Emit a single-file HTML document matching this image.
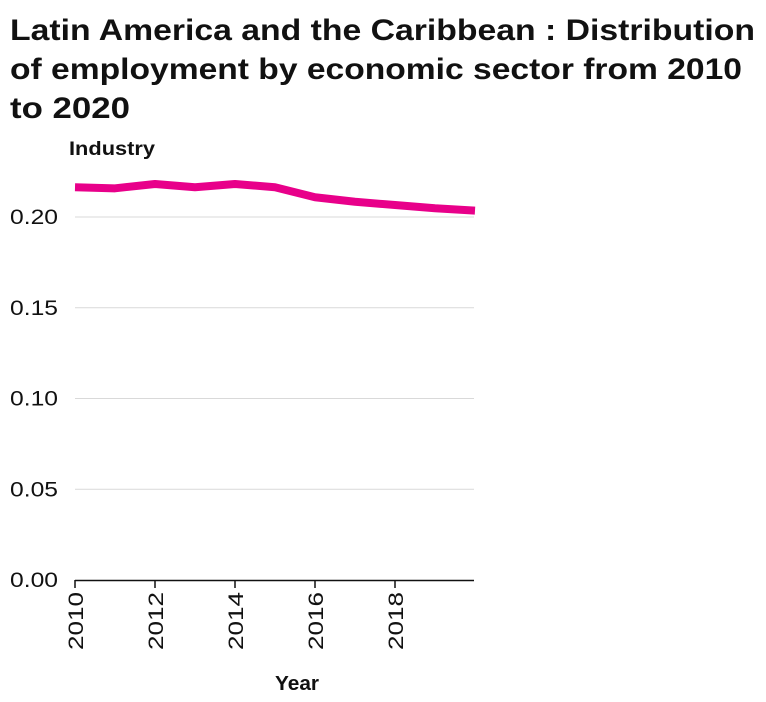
<!DOCTYPE html>
<html><head><meta charset="utf-8"><style>
body{margin:0;background:#fff;}
svg{display:block;font-family:"Liberation Sans",sans-serif;}
</style></head><body>
<svg width="766" height="702">
<text x="10" y="40" font-size="30" font-weight="bold" fill="#111" textLength="745" lengthAdjust="spacingAndGlyphs">Latin America and the Caribbean : Distribution</text>
<text x="10" y="79" font-size="30" font-weight="bold" fill="#111" textLength="732" lengthAdjust="spacingAndGlyphs">of employment by economic sector from 2010</text>
<text x="10" y="118" font-size="30" font-weight="bold" fill="#111" textLength="120" lengthAdjust="spacingAndGlyphs">to 2020</text>
<text x="69" y="155" font-size="19" font-weight="bold" fill="#111" textLength="86" lengthAdjust="spacingAndGlyphs">Industry</text>
<text x="275" y="690" font-size="20" font-weight="bold" fill="#111" textLength="44" lengthAdjust="spacingAndGlyphs">Year</text>
<g id="grid"></g><g id="axes"></g><g id="series"></g>
</svg>
<script>
const years=[2010,2011,2012,2013,2014,2015,2016,2017,2018,2019,2020];
const industry=[0.2164,0.2158,0.2182,0.2164,0.2182,0.2164,0.2109,0.2084,0.2066,0.2048,0.2035];
const yTicks=[0,0.05,0.10,0.15,0.20];
const yTickLabels=["0.00","0.05","0.10","0.15","0.20"];
const xTicks=[2010,2012,2014,2016,2018];
const NS="http://www.w3.org/2000/svg";
const x=v=>75+(v-2010)*40;
const y=v=>580-v*1815;
function mk(t,a,p){const e=document.createElementNS(NS,t);for(const k in a)e.setAttribute(k,a[k]);p.appendChild(e);return e;}
const grid=document.getElementById('grid'),axes=document.getElementById('axes'),series=document.getElementById('series');
yTicks.forEach((t,i)=>{
 if(t>0){const l=mk('line',{x1:75,x2:474,y1:y(t),y2:y(t),stroke:'#d9d9d9','stroke-width':1},grid);
 
 }
 const tx=mk('text',{x:10,y:y(t)+7,'font-size':21,fill:'#111',textLength:48,lengthAdjust:'spacingAndGlyphs'},axes);
 tx.textContent=yTickLabels[i];
 
 
});
const ax=mk('line',{x1:75,x2:474,y1:580.5,y2:580.5,stroke:'#111','stroke-width':1.5},axes);


xTicks.forEach(t=>{
 const tk=mk('line',{x1:x(t),x2:x(t),y1:580,y2:588,stroke:'#111','stroke-width':1.5},axes);
 
 
 const tx=mk('text',{x:-650,y:0,'font-size':21,fill:'#111',textLength:58,lengthAdjust:'spacingAndGlyphs',transform:`translate(${x(t)+8},0) rotate(-90)`},axes);
 tx.textContent=t;
 
 
});
const p=mk('polyline',{points:years.map((yr,i)=>x(yr)+','+y(industry[i])).join(' '),fill:'none',stroke:'#e8008a','stroke-width':8,'stroke-linejoin':'round'},series);


</script>
</body></html>
